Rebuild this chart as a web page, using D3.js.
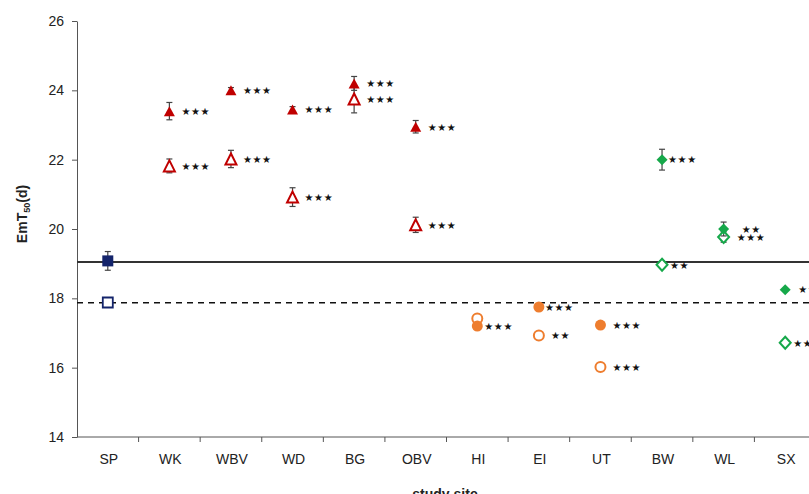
<!DOCTYPE html>
<html><head><meta charset="utf-8">
<script src="https://cdn.jsdelivr.net/npm/d3@7"></script>
<style>body{margin:0;background:#fff}svg{display:block}</style>
</head><body>
<svg id="c" width="809" height="494"></svg>
<script>
const sites = ["SP","WK","WBV","WD","BG","OBV","HI","EI","UT","BW","WL","SX"];
const group = ["ref","red","red","red","red","red","orange","orange","orange","green","green","green"];
const filledVals = [19.08,23.40,24.00,23.45,24.20,22.95,17.20,17.75,17.23,22.00,20.00,18.25];
const filledErr  = [0.27,0.25,0.08,0.08,0.20,0.18,0.05,0.05,0.05,0.30,0.20,0.05];
const openVals   = [17.88,21.82,22.02,20.92,23.75,20.12,17.42,16.93,16.02,18.97,19.77,16.72];
const openErr    = [0.12,0.20,0.25,0.27,0.40,0.22,0.05,0.05,0.05,0.10,0.15,0.05];
const filledSig  = ["","***","***","***","***","***","***","***","***","***","**","**"];
const openSig    = ["","***","***","***","***","***","","**","***","**","***","**"];
const refFilled = 19.05, refOpen = 17.87;
const yTicks = [14,16,18,20,22,24,26];

const colors = {ref:"#14246b", red:"#c00000", orange:"#ee7d2e", green:"#16a84a"};
const svg = d3.select("#c");
const x = d3.scaleBand().domain(sites).range([77, 816]);
const y = d3.scaleLinear().domain([14,26]).range([437, 21]);
const cx = s => x(s) + x.bandwidth()/2;

// Y axis
const ya = svg.append("g").attr("transform","translate(77,0)")
  .call(d3.axisLeft(y).tickValues(yTicks).tickSize(5).tickSizeOuter(0).tickPadding(8));
ya.select(".domain").attr("stroke","#555");
ya.selectAll(".tick line").attr("stroke","#555");
ya.selectAll("text").attr("font-family","Liberation Sans, Arial").attr("font-size",14).attr("fill","#222");

// X axis
const xa = svg.append("g").attr("transform","translate(0,437)");
xa.append("line").attr("x1",77).attr("x2",816).attr("stroke","#555");
xa.selectAll(".tk").data(sites).enter().append("line")
  .attr("x1",d=>x(d)+x.bandwidth()).attr("x2",d=>x(d)+x.bandwidth()).attr("y1",0).attr("y2",5).attr("stroke","#555");
xa.selectAll(".lb").data(sites).enter().append("text")
  .attr("x",d=>cx(d)+1).attr("y",27).attr("text-anchor","middle")
  .attr("font-family","Liberation Sans, Arial").attr("font-size",14).attr("fill","#222").text(d=>d);

// Titles
const yt = svg.append("text").attr("transform","translate(27,214) rotate(-90)")
  .attr("text-anchor","middle").attr("font-family","Liberation Sans, Arial").attr("font-size",14)
  .attr("font-weight","bold").attr("fill","#222");
yt.append("tspan").text("EmT");
yt.append("tspan").attr("font-size",9).attr("dy",3).text("50");
yt.append("tspan").attr("dy",-3).text("(d)");
svg.append("text").attr("x",445).attr("y",499).attr("text-anchor","middle")
  .attr("font-family","Liberation Sans, Arial").attr("font-size",14).attr("font-weight","bold")
  .attr("fill","#222").text("study site");

// Reference lines
svg.append("line").attr("x1",77).attr("x2",809).attr("y1",y(refFilled)).attr("y2",y(refFilled))
  .attr("stroke","#333").attr("stroke-width",2);
svg.append("line").attr("x1",77).attr("x2",809).attr("y1",y(refOpen)).attr("y2",y(refOpen))
  .attr("stroke","#111").attr("stroke-width",1.5).attr("stroke-dasharray","6,5");

function shape(g, filled){
  const c = colors[g];
  const fill = filled ? c : "#fff";
  const sw = filled ? 0 : 2;
  if (g==="ref") {
    const s = filled?11:10;
    return {d:`M${-s/2},${-s/2}h${s}v${s}h${-s}z`, fill, stroke:c, sw: filled?0:1.8};
  }
  if (g==="red") {
    const w = 11, h = filled?10:11;
    return {d:`M0,${-h/2}L${w/2},${h/2}L${-w/2},${h/2}z`, fill, stroke:c, sw};
  }
  if (g==="orange") {
    const r = filled?5.5:5;
    return {d:`M${r},0A${r},${r} 0 1,1 ${-r},0A${r},${r} 0 1,1 ${r},0z`, fill, stroke:c, sw};
  }
  const a = 5.5, b = filled?5.5:6;
  return {d:`M0,${-b}L${a},0L0,${b}L${-a},0z`, fill, stroke:c, sw};
}

const sigOffset = {filled:{EI:6,BW:6,WL:18,SX:13,HI:7}, open:{BW:8,WL:13,SX:8}};

function drawSeries(vals, errs, sigs, filled){
  const data = sites.map((s,i)=>({s, v:vals[i], e:errs[i], g:group[i], sig:sigs[i]}));
  const eb = svg.append("g");
  data.forEach(d=>{
    const X = cx(d.s);
    if (d.e > 0.06) {
      eb.append("line").attr("x1",X).attr("x2",X).attr("y1",y(d.v+d.e)).attr("y2",y(d.v-d.e)).attr("stroke","#444").attr("stroke-width",1.2);
      [d.v+d.e, d.v-d.e].forEach(t=>eb.append("line").attr("x1",X-3).attr("x2",X+3).attr("y1",y(t)).attr("y2",y(t)).attr("stroke","#444").attr("stroke-width",1.2));
    }
  });
  const mg = svg.append("g");
  data.forEach(d=>{
    const sh = shape(d.g, filled);
    mg.append("path").attr("transform",`translate(${cx(d.s)},${y(d.v)})`).attr("d",sh.d)
      .attr("fill",sh.fill).attr("stroke",sh.stroke).attr("stroke-width",sh.sw);
    if (d.sig) {
      const off = (filled?sigOffset.filled:sigOffset.open)[d.s] ?? 12;
      mg.append("text").attr("x",cx(d.s)+off).attr("y",y(d.v)).attr("dy","0.38em")
        .attr("font-family","DejaVu Sans").attr("font-size",10).attr("letter-spacing",0.6)
        .attr("fill","#111").text(d.sig.replace(/\*/g,"★"));
    }
  });
}
drawSeries(openVals, openErr, openSig, false);
drawSeries(filledVals, filledErr, filledSig, true);
</script>
</body></html>
